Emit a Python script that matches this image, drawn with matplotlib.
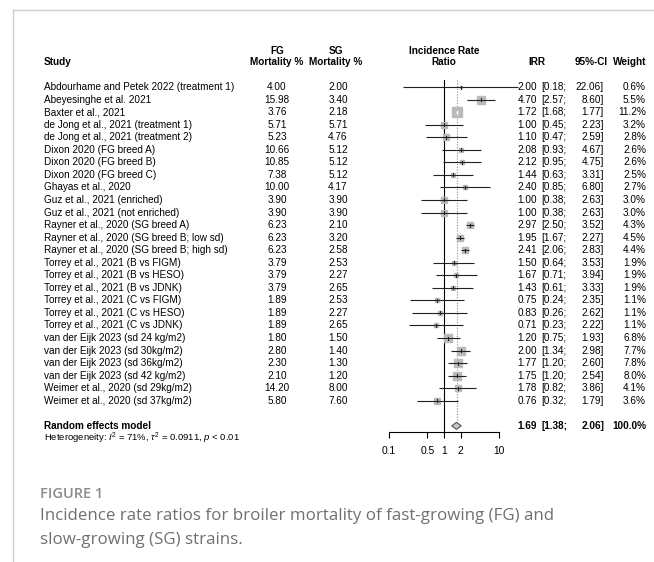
import matplotlib
matplotlib.use("Agg")
import matplotlib.pyplot as plt
import numpy as np

plt.rcParams['font.family'] = ['Liberation Sans', 'DejaVu Sans']
plt.rcParams['mathtext.fontset'] = 'custom'
plt.rcParams['mathtext.rm'] = 'Liberation Sans'
plt.rcParams['mathtext.it'] = 'Liberation Sans:italic'

# Data
studies = [
    "Abdourhame and Petek 2022 (treatment 1)", "Abeyesinghe et al. 2021",
    "Baxter et al., 2021", "de Jong et al., 2021 (treatment 1)",
    "de Jong et al., 2021 (treatment 2)", "Dixon 2020 (FG breed A)",
    "Dixon 2020 (FG breed B)", "Dixon 2020 (FG breed C)", "Ghayas et al., 2020",
    "Guz et al., 2021 (enriched)", "Guz et al., 2021 (not enriched)",
    "Rayner et al., 2020 (SG breed A)", "Rayner et al., 2020 (SG breed B; low sd)",
    "Rayner et al., 2020 (SG breed B; high sd)", "Torrey et al., 2021 (B vs FIGM)",
    "Torrey et al., 2021 (B vs HESO)", "Torrey et al., 2021 (B vs JDNK)",
    "Torrey et al., 2021 (C vs FIGM)", "Torrey et al., 2021 (C vs HESO)",
    "Torrey et al., 2021 (C vs JDNK)", "van der Eijk 2023 (sd 24 kg/m2)",
    "van der Eijk 2023 (sd 30kg/m2)", "van der Eijk 2023 (sd 36kg/m2)",
    "van der Eijk 2023 (sd 42 kg/m2)", "Weimer et al., 2020 (sd 29kg/m2)",
    "Weimer et al., 2020 (sd 37kg/m2)",
]
fg_mort = [4.00, 15.98, 3.76, 5.71, 5.23, 10.66, 10.85, 7.38, 10.00, 3.90, 3.90,
           6.23, 6.23, 6.23, 3.79, 3.79, 3.79, 1.89, 1.89, 1.89, 1.80, 2.80,
           2.30, 2.10, 14.20, 5.80]
sg_mort = [2.00, 3.40, 2.18, 5.71, 4.76, 5.12, 5.12, 5.12, 4.17, 3.90, 3.90,
           2.10, 3.20, 2.58, 2.53, 2.27, 2.65, 2.53, 2.27, 2.65, 1.50, 1.40,
           1.30, 1.20, 8.00, 7.60]
irr = [2.00, 4.70, 1.72, 1.00, 1.10, 2.08, 2.12, 1.44, 2.40, 1.00, 1.00, 2.97,
       1.95, 2.41, 1.50, 1.67, 1.43, 0.75, 0.83, 0.71, 1.20, 2.00, 1.77, 1.75,
       1.78, 0.76]
ci_low = [0.18, 2.57, 1.68, 0.45, 0.47, 0.93, 0.95, 0.63, 0.85, 0.38, 0.38, 2.50,
          1.67, 2.06, 0.64, 0.71, 0.61, 0.24, 0.26, 0.23, 0.75, 1.34, 1.20, 1.20,
          0.82, 0.32]
ci_high = [22.06, 8.60, 1.77, 2.23, 2.59, 4.67, 4.75, 3.31, 6.80, 2.63, 2.63, 3.52,
           2.27, 2.83, 3.53, 3.94, 3.33, 2.35, 2.62, 2.22, 1.93, 2.98, 2.60, 2.54,
           3.86, 1.79]
weights = [0.6, 5.5, 11.2, 3.2, 2.8, 2.6, 2.6, 2.5, 2.7, 3.0, 3.0, 4.3, 4.5, 4.4,
           1.9, 1.9, 1.9, 1.1, 1.1, 1.1, 6.8, 7.7, 7.8, 8.0, 4.1, 3.6]
pooled = (1.69, 1.38, 2.06)
axis_ticks = [0.1, 0.5, 1, 2, 10]

W, H = 654, 562
fig = plt.figure(figsize=(W / 100, H / 100), dpi=100)
ax = fig.add_axes([0, 0, 1, 1])
ax.set_xlim(0, W)
ax.set_ylim(H, 0)
ax.axis('off')

# plot area (log scale) placed in pixel columns 389..499
x0, x1 = 389, 499
fx = fig.add_axes([x0 / W, 0, (x1 - x0) / W, 1])
fx.set_xscale('log')
fx.set_xlim(0.1, 10)
fx.set_ylim(H, 0)
fx.patch.set_alpha(0)
for s in ['top', 'left', 'right']:
    fx.spines[s].set_visible(False)
fx.yaxis.set_visible(False)

row0, dy = 87, 12.55
ys = row0 + dy * np.arange(len(studies))
y_pool = row0 + dy * 27
y_axis = 432
fs = 7.2
bold = dict(fontweight='bold', fontsize=fs)

# frame lines
ax.plot([13, 13], [10, H], color='#cfcfcf', lw=1)
ax.plot([13, W], [10, 10], color='#cfcfcf', lw=1)

# headers
ax.text(44, 62, "Study", ha='left', va='center', **bold)
ax.text(277, 51, "FG", ha='center', va='center', **bold)
ax.text(277, 62, "Mortality %", ha='center', va='center', **bold)
ax.text(336, 51, "SG", ha='center', va='center', **bold)
ax.text(336, 62, "Mortality %", ha='center', va='center', **bold)
ax.text(444, 51, "Incidence Rate", ha='center', va='center', **bold)
ax.text(444, 62, "Ratio", ha='center', va='center', **bold)
ax.text(545, 62, "IRR", ha='right', va='center', **bold)
ax.text(608, 62, "95%-CI", ha='right', va='center', **bold)
ax.text(646, 62, "Weight", ha='right', va='center', **bold)

# study rows
for i, y in enumerate(ys):
    ax.text(44, y, studies[i], ha='left', va='center', fontsize=fs)
    ax.text(277, y, f"{fg_mort[i]:.2f}", ha='center', va='center', fontsize=fs)
    ax.text(338, y, f"{sg_mort[i]:.2f}", ha='center', va='center', fontsize=fs)
    ax.text(537, y, f"{irr[i]:.2f}", ha='right', va='center', fontsize=fs)
    ax.text(541, y, f"[{ci_low[i]:.2f};", ha='left', va='center', fontsize=fs)
    ax.text(604, y, f"{ci_high[i]:.2f}]", ha='right', va='center', fontsize=fs)
    ax.text(646, y, f"{weights[i]:.1f}%", ha='right', va='center', fontsize=fs)

    side_px = 3.0 * np.sqrt(weights[i])
    fx.plot([irr[i]], [y], marker='s', ms=side_px * 0.72, color='#bababa',
            mec='#bababa', zorder=2, clip_on=False)
    ci_px = (np.log10(ci_high[i]) - np.log10(ci_low[i])) * (x1 - x0) / 2
    lc = 'white' if ci_px < side_px else '#222222'
    fx.plot([ci_low[i], ci_high[i]], [y, y], color=lc, lw=0.8, zorder=3,
            solid_capstyle='butt', clip_on=False)
    fx.plot([irr[i], irr[i]], [y - 1.5, y + 1.5], color=lc, lw=0.8, zorder=3,
            clip_on=False)

# reference lines
fx.plot([1, 1], [80, y_axis], color='black', lw=0.8, zorder=1)
fx.plot([pooled[0], pooled[0]], [80, y_pool - 3.5], color='#8a8a8a', lw=0.8,
        ls=(0, (1, 1.5)), zorder=1)

# pooled diamond
fx.fill([pooled[1], pooled[0], pooled[2], pooled[0]],
        [y_pool, y_pool - 3.5, y_pool, y_pool + 3.5],
        facecolor='#c8c8c8', edgecolor='#555555', lw=0.8, zorder=3)

ax.text(44, y_pool, "Random effects model", ha='left', va='center', **bold)
ax.text(44, y_pool + 12, r"Heterogeneity: $I^2$ = 71%, $\tau^2$ = 0.0911, $p$ < 0.01",
        ha='left', va='center', fontsize=6.8)
ax.text(537, y_pool, f"{pooled[0]:.2f}", ha='right', va='center', **bold)
ax.text(541, y_pool, f"[{pooled[1]:.2f};", ha='left', va='center', **bold)
ax.text(604, y_pool, f"{pooled[2]:.2f}]", ha='right', va='center', **bold)
ax.text(646, y_pool, "100.0%", ha='right', va='center', **bold)

# x axis
fx.spines['bottom'].set_position(('data', y_axis))
fx.spines['bottom'].set_linewidth(0.8)
fx.set_xticks(axis_ticks, [f"{t:g}" for t in axis_ticks])
fx.xaxis.set_minor_locator(matplotlib.ticker.NullLocator())
fx.tick_params(axis='x', direction='out', length=4, width=0.8, labelsize=7.4, pad=6)

# caption
ax.text(40, 494, "FIGURE 1", ha='left', va='center', fontsize=10.5,
        family='Open Sans', fontweight='semibold', color='#8c8c8c')
ax.text(40, 516, "Incidence rate ratios for broiler mortality of fast-growing (FG) and",
        ha='left', va='center', fontsize=12.2, family='Open Sans', color='#707070')
ax.text(40, 540, "slow-growing (SG) strains.",
        ha='left', va='center', fontsize=12.2, family='Open Sans', color='#707070')

fig.savefig("out.png", dpi=100)
